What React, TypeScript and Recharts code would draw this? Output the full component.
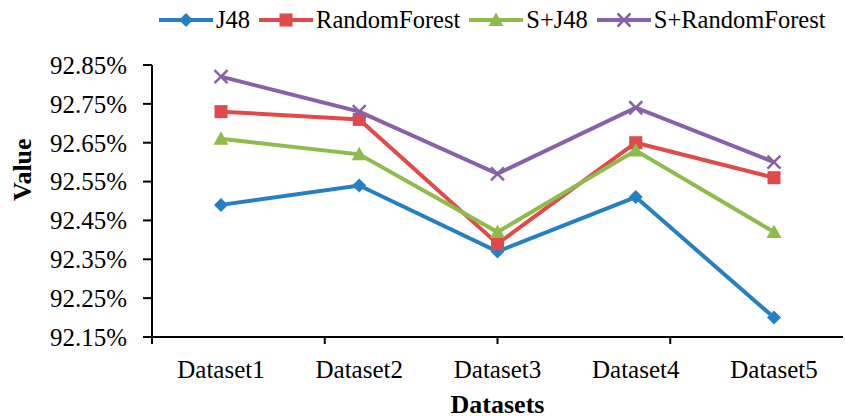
import React from 'react';
import { LineChart, Line, XAxis, YAxis, Legend } from 'recharts';

const categories = ['Dataset1', 'Dataset2', 'Dataset3', 'Dataset4', 'Dataset5'];
const j48 = [92.49, 92.54, 92.37, 92.51, 92.2];
const randomForest = [92.73, 92.71, 92.39, 92.65, 92.56];
const sJ48 = [92.66, 92.62, 92.42, 92.63, 92.42];
const sRandomForest = [92.82, 92.73, 92.57, 92.74, 92.6];
const yTicks = [92.15, 92.25, 92.35, 92.45, 92.55, 92.65, 92.75, 92.85];
const edgeTicks = [0, 1, 2, 3, 4, 5];

const series = [
  { key: 'j48', name: 'J48', values: j48, color: '#2480c3', marker: 'diamond' },
  { key: 'rf', name: 'RandomForest', values: randomForest, color: '#e04b4a', marker: 'square' },
  { key: 'sj48', name: 'S+J48', values: sJ48, color: '#8dbc4a', marker: 'triangle' },
  { key: 'srf', name: 'S+RandomForest', values: sRandomForest, color: '#8861aa', marker: 'cross' },
];

const data = categories.map((c, i) => {
  const row: any = { name: c };
  series.forEach((s) => (row[s.key] = s.values[i]));
  return row;
});

const FONT = 'Liberation Serif';

function Marker({ type, x, y, color }: { type: string; x: number; y: number; color: string }) {
  if (type === 'diamond')
    return <path d={`M${x},${y - 7}L${x + 7},${y}L${x},${y + 7}L${x - 7},${y}Z`} fill={color} />;
  if (type === 'square') return <rect x={x - 6.5} y={y - 6.5} width={13} height={13} fill={color} />;
  if (type === 'triangle')
    return <path d={`M${x},${y - 7.5}L${x + 7.5},${y + 6}L${x - 7.5},${y + 6}Z`} fill={color} />;
  return (
    <path
      d={`M${x - 6.5},${y - 6.5}L${x + 6.5},${y + 6.5}M${x + 6.5},${y - 6.5}L${x - 6.5},${y + 6.5}`}
      stroke={color}
      strokeWidth={2.5}
      fill="none"
    />
  );
}

const makeDot = (type: string, color: string) => (props: any) => {
  const { cx, cy, index } = props;
  if (cx == null || cy == null) return <g key={index} />;
  return (
    <g key={index}>
      <Marker type={type} x={cx} y={cy} color={color} />
    </g>
  );
};

const renderLegend = () => (
  <div style={{ display: 'flex', alignItems: 'center', fontFamily: FONT, fontSize: 24.5, lineHeight: '26px' }}>
    {series.map((s) => (
      <div key={s.key} style={{ display: 'flex', alignItems: 'center', marginRight: 8 }}>
        <svg width={56} height={20}>
          <line x1={1} y1={10} x2={55} y2={10} stroke={s.color} strokeWidth={4} />
          <Marker type={s.marker} x={28} y={10} color={s.color} />
        </svg>
        <span style={{ marginLeft: 2, color: '#000' }}>{s.name}</span>
      </div>
    ))}
  </div>
);

export default function App() {
  return (
    <div style={{ position: 'absolute', left: 0, top: 0, background: '#fff' }}>
      <LineChart width={845} height={416} data={data} margin={{ top: 39, right: 2, bottom: 0, left: 0 }}>
        <Legend
          verticalAlign="top"
          content={renderLegend}
          wrapperStyle={{ top: 7, left: 158, width: 685, height: 26 }}
        />
        {/* boundary tick marks between categories */}
        <XAxis
          xAxisId="a"
          type="number"
          domain={[0, 5]}
          ticks={edgeTicks}
          allowDataOverflow
          tickFormatter={() => ''}
          height={1}
          tickSize={7}
          stroke="#000"
          strokeWidth={2}
        />
        <XAxis
          xAxisId="b"
          dataKey="name"
          padding={{ left: 69, right: 69 }}
          height={78}
          axisLine={false}
          tickLine={false}
          tickSize={0}
          tickMargin={22}
          tick={{ fill: '#000', fontFamily: FONT, fontSize: 25 }}
          label={{
            value: 'Datasets',
            position: 'insideBottom',
            offset: 3,
            fill: '#000',
            fontFamily: FONT,
            fontSize: 26,
            fontWeight: 'bold',
          }}
        />
        <YAxis
          type="number"
          domain={[92.15, 92.85]}
          ticks={yTicks}
          width={152}
          tickFormatter={(v: number) => v.toFixed(2) + '%'}
          tickSize={9}
          tickMargin={16}
          stroke="#000"
          strokeWidth={2}
          tick={{ fill: '#000', fontFamily: FONT, fontSize: 25 }}
          label={{
            value: 'Value',
            angle: -90,
            position: 'insideLeft',
            offset: 22,
            fill: '#000',
            fontFamily: FONT,
            fontSize: 26,
            fontWeight: 'bold',
          }}
        />
        {series.map((s) => (
          <Line
            key={s.key}
            xAxisId="b"
            dataKey={s.key}
            name={s.name}
            stroke={s.color}
            strokeWidth={4}
            dot={makeDot(s.marker, s.color)}
            activeDot={false}
            isAnimationActive={false}
          />
        ))}
      </LineChart>
    </div>
  );
}
